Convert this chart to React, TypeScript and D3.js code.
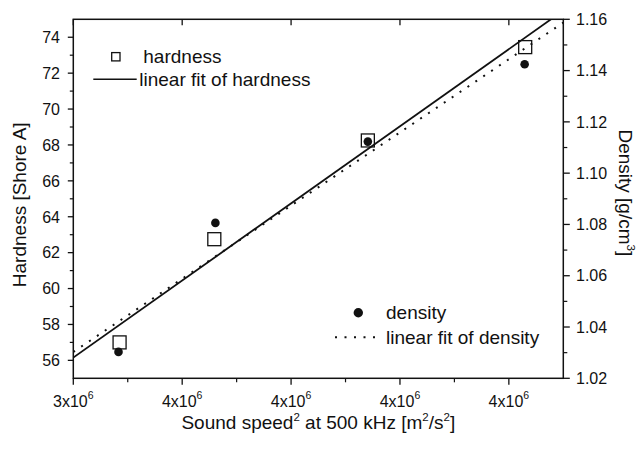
import React from "react";
import * as d3 from "d3";

// ---- data ----
const speedHard = [3.485e6, 3.659e6, 3.941e6, 4.23e6];
const hardness = [57.0, 62.75, 68.25, 73.45];
const speedDens = [3.483e6, 3.661e6, 3.941e6, 4.229e6];
const density = [1.0303, 1.0806, 1.1123, 1.1425];

const xMajorTicks = [3.4e6, 3.6e6, 3.8e6, 4.0e6, 4.2e6];
const xMinorTicks = [3.5e6, 3.7e6, 3.9e6, 4.1e6];
const xTickMantissa = ["3", "4", "4", "4", "4"];
const hardMajorTicks = [56, 58, 60, 62, 64, 66, 68, 70, 72, 74];
const hardMinorTicks = [57, 59, 61, 63, 65, 67, 69, 71, 73];
const densMajorTicks = [1.02, 1.04, 1.06, 1.08, 1.1, 1.12, 1.14, 1.16];
const densMinorTicks = [1.03, 1.05, 1.07, 1.09, 1.11, 1.13, 1.15];

function linFit(xs: number[], ys: number[]) {
  const mx = d3.mean(xs)!;
  const my = d3.mean(ys)!;
  let sxy = 0, sxx = 0;
  xs.forEach((x, i) => { sxy += (x - mx) * (ys[i] - my); sxx += (x - mx) * (x - mx); });
  const b = sxy / sxx;
  const a = my - b * mx;
  return (x: number) => a + b * x;
}

const FONT = "'Liberation Sans', Arial, Helvetica, sans-serif";

export default function App() {
  const L = 73.3, R = 563.3, T = 19.3, B = 378.3;
  const x = d3.scaleLinear().domain([3.4e6, 4.3e6]).range([L, R]);
  const yH = d3.scaleLinear().domain([55, 75]).range([B, T]);
  const yD = d3.scaleLinear().domain([1.02, 1.16]).range([B, T]);

  const fitH = linFit(speedHard, hardness);
  const fitD = linFit(speedDens, density);
  const xd = x.domain();
  const lineH = d3.line<number>().x(v => x(v)).y(v => yH(fitH(v)));
  const lineD = d3.line<number>().x(v => x(v)).y(v => yD(fitD(v)));

  const sq = 13;
  const ink = "#111";

  return (
    <svg width={642} height={450} style={{ position: "absolute", left: 0, top: 0, background: "#fff" }} fontFamily={FONT}>
      <defs>
        <clipPath id="plotclip">
          <rect x={L} y={T} width={R - L} height={B - T} />
        </clipPath>
      </defs>
      <rect x={0} y={0} width={642} height={450} fill="#fff" />

      {/* fits */}
      <g clipPath="url(#plotclip)">
        <path d={lineH(xd) || ""} fill="none" stroke={ink} strokeWidth={1.8} />
        <path d={lineD(xd) || ""} fill="none" stroke={ink} strokeWidth={2} strokeDasharray="2 7.5" />
      </g>

      {/* points */}
      {speedHard.map((v, i) => (
        <rect key={"s" + i} x={x(v) - sq / 2} y={yH(hardness[i]) - sq / 2} width={sq} height={sq}
          fill="none" stroke={ink} strokeWidth={1.3} />
      ))}
      {speedDens.map((v, i) => (
        <circle key={"d" + i} cx={x(v)} cy={yD(density[i])} r={4.3} fill={ink} />
      ))}

      {/* frame */}
      <rect x={L} y={T} width={R - L} height={B - T} fill="none" stroke={ink} strokeWidth={1.5} />

      {/* bottom axis */}
      {xMajorTicks.map((v, i) => (
        <g key={"xm" + i}>
          <line x1={x(v)} x2={x(v)} y1={B} y2={B + 6.5} stroke={ink} strokeWidth={1.3} />
          <line x1={x(v)} x2={x(v)} y1={T} y2={T + 6} stroke={ink} strokeWidth={1.3} />
          <text x={x(v)} y={406.5} textAnchor="middle" fontSize={16} fill={ink}>
            {xTickMantissa[i] + "x10"}
            <tspan fontSize={10.5} dy={-8}>6</tspan>
          </text>
        </g>
      ))}
      {xMinorTicks.map((v, i) => (
        <line key={"xn" + i} x1={x(v)} x2={x(v)} y1={B} y2={B + 4} stroke={ink} strokeWidth={1.2} />
      ))}
      <text x={(L + R) / 2} y={429} textAnchor="middle" fontSize={19} fill={ink}>
        Sound speed<tspan fontSize={11.5} dy={-8}>2</tspan>
        <tspan dy={8}> at 500 kHz [m</tspan><tspan fontSize={11.5} dy={-8}>2</tspan>
        <tspan dy={8}>/s</tspan><tspan fontSize={11.5} dy={-8}>2</tspan><tspan dy={8}>]</tspan>
      </text>

      {/* left axis */}
      {hardMajorTicks.map((v, i) => (
        <g key={"hm" + i}>
          <line x1={L - 5.5} x2={L} y1={yH(v)} y2={yH(v)} stroke={ink} strokeWidth={1.3} />
          <text x={60} y={yH(v)} dy="0.36em" textAnchor="end" fontSize={16} fill={ink}>{v}</text>
        </g>
      ))}
      {hardMinorTicks.map((v, i) => (
        <line key={"hn" + i} x1={L - 3.5} x2={L} y1={yH(v)} y2={yH(v)} stroke={ink} strokeWidth={1.2} />
      ))}
      <text transform={`translate(26,${(T + B) / 2 + 6}) rotate(-90)`} textAnchor="middle" fontSize={19} fill={ink}>
        Hardness [Shore A]
      </text>

      {/* right axis */}
      {densMajorTicks.map((v, i) => (
        <g key={"dm" + i}>
          <line x1={R} x2={R + 6.5} y1={yD(v)} y2={yD(v)} stroke={ink} strokeWidth={1.3} />
          <text x={576} y={yD(v)} dy="0.36em" textAnchor="start" fontSize={16} fill={ink}>{v.toFixed(2)}</text>
        </g>
      ))}
      {densMinorTicks.map((v, i) => (
        <line key={"dn" + i} x1={R} x2={R + 4} y1={yD(v)} y2={yD(v)} stroke={ink} strokeWidth={1.2} />
      ))}
      <text transform={`translate(619,${(T + B) / 2 - 6}) rotate(90)`} textAnchor="middle" fontSize={19} fill={ink}>
        Density [g/cm<tspan fontSize={11.5} dy={-8}>3</tspan><tspan dy={8}>]</tspan>
      </text>

      {/* legend 1 */}
      <rect x={111.7} y={52.6} width={8.3} height={8.3} fill="none" stroke={ink} strokeWidth={1.3} />
      <text x={143.3} y={56.7} dy="0.35em" fontSize={19} fill={ink}>hardness</text>
      <line x1={93.3} x2={136.7} y1={79.3} y2={79.3} stroke={ink} strokeWidth={1.5} />
      <text x={139.3} y={79.3} dy="0.35em" fontSize={19} fill={ink}>linear fit of hardness</text>

      {/* legend 2 */}
      <circle cx={358.3} cy={312.7} r={4.7} fill={ink} />
      <text x={386} y={312.7} dy="0.35em" fontSize={19} fill={ink}>density</text>
      <line x1={335} x2={377} y1={337.3} y2={337.3} stroke={ink} strokeWidth={2} strokeDasharray="2 7.5" />
      <text x={386} y={337.3} dy="0.35em" fontSize={19} fill={ink}>linear fit of density</text>
    </svg>
  );
}
